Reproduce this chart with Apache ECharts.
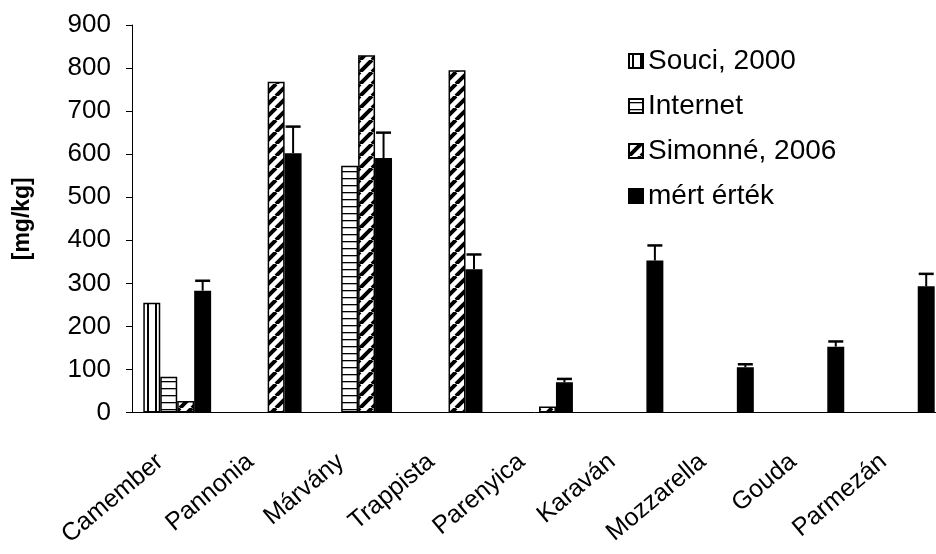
<!DOCTYPE html>
<html>
<head>
<meta charset="utf-8">
<script src="https://cdn.jsdelivr.net/npm/echarts@6/dist/echarts.min.js"></script>
<style>
  html, body { margin: 0; padding: 0; background: #fff; }
  #chart { width: 936px; height: 554px; }
</style>
</head>
<body>
<div id="chart"></div>
<script>
// adatok (leolvasva az ábráról)
const categories = ['Camember', 'Pannonia', 'Márvány', 'Trappista', 'Parenyica', 'Karaván', 'Mozzarella', 'Gouda', 'Parmezán'];
const souci = [255, null, null, null, null, null, null, null, null];
const internet = [83, null, 573, null, null, null, null, null, null];
const simonne = [27, 768, 830, 795, 14, null, null, null, null];
const mert = [283, 602, 591, 333, 70, 353, 105, 153, 293];
const mertErr = [23, 62, 59, 34, 8, 35, 7, 12, 29];
const yTicks = [0, 900, 100]; // min, max, interval

// mintázatok a kitöltéshez
function makePattern(size, draw) {
  const c = document.createElement('canvas');
  c.width = size;
  c.height = size;
  const ctx = c.getContext('2d');
  ctx.fillStyle = '#fff';
  ctx.fillRect(0, 0, size, size);
  ctx.strokeStyle = '#000';
  ctx.fillStyle = '#000';
  draw(ctx, size);
  return { image: c, repeat: 'repeat' };
}
const vertPattern = makePattern(8, function(ctx, s) {
  ctx.fillRect(3, 0, 2, s);
});
const horizPattern = makePattern(7, function(ctx, s) {
  ctx.fillRect(0, 3, s, 1.3);
});
const diagPattern = makePattern(12, function(ctx, s) {
  ctx.lineWidth = 4;
  ctx.beginPath();
  for (let k = -s; k <= s; k += s) {
    ctx.moveTo(k, s);
    ctx.lineTo(k + s, 0);
  }
  ctx.stroke();
});

const font = 'Liberation Sans, Arial, sans-serif';
const chart = echarts.init(document.getElementById('chart'));

function barSeries(name, data, fill) {
  return {
    name: name,
    type: 'bar',
    data: data,
    barGap: '0%',
    barCategoryGap: '25%',
    itemStyle: {
      color: fill,
      borderColor: '#000',
      borderWidth: 1.5
    }
  };
}

const option = {
  animation: false,
  backgroundColor: '#fff',
  textStyle: { fontFamily: font, color: '#000' },
  grid: {
    left: 132,
    right: -10,
    top: 25,
    bottom: 141.5,
    containLabel: false,
    outerBoundsMode: 'none'
  },
  legend: {
    orient: 'vertical',
    left: 623,
    top: 42,
    itemWidth: 14,
    itemHeight: 14,
    itemGap: 17,
    icon: 'rect',
    textStyle: { fontFamily: font, fontSize: 28, color: '#000' },
    data: ['Souci, 2000', 'Internet', 'Simonné, 2006', 'mért érték']
  },
  xAxis: {
    type: 'category',
    data: categories,
    axisLine: { lineStyle: { color: '#000', width: 1 } },
    axisTick: { length: 8, lineStyle: { color: '#000' } },
    axisLabel: {
      interval: 0,
      rotate: 40,
      margin: 48,
      padding: [0, 12, 0, 0],
      verticalAlign: 'bottom',
      fontFamily: font,
      fontSize: 25,
      color: '#000'
    }
  },
  yAxis: {
    type: 'value',
    min: yTicks[0],
    max: yTicks[1],
    interval: yTicks[2],
    name: '[mg/kg]',
    nameLocation: 'middle',
    nameRotate: 90,
    nameGap: 98,
    nameTextStyle: { fontFamily: font, fontSize: 23, fontWeight: 'bold', color: '#000' },
    axisLine: { show: true, lineStyle: { color: '#000', width: 1 } },
    axisTick: { show: true, length: 6, lineStyle: { color: '#000' } },
    splitLine: { show: false },
    axisLabel: { margin: 21, fontFamily: font, fontSize: 26, color: '#000' }
  },
  series: [
    barSeries('Souci, 2000', souci, vertPattern),
    barSeries('Internet', internet, horizPattern),
    barSeries('Simonné, 2006', simonne, diagPattern),
    barSeries('mért érték', mert, '#000'),
    {
      // hibasáv a mért értékekhez
      type: 'custom',
      z: 5,
      data: mert.map(function(v, i) { return [i, v, mertErr[i]]; }),
      encode: { x: 0, y: 1 },
      renderItem: function(params, api) {
        const band = api.size([1, 0])[0];
        const bw = band * 0.75 / 4;
        const base = api.coord([api.value(0), api.value(1)]);
        const top = api.coord([api.value(0), api.value(1) + api.value(2)]);
        const x = base[0] + 1.5 * bw;
        return {
          type: 'group',
          children: [
            { type: 'line', shape: { x1: x, y1: base[1], x2: x, y2: top[1] }, style: { stroke: '#000', lineWidth: 2 } },
            { type: 'line', shape: { x1: x - 7.5, y1: top[1], x2: x + 7.5, y2: top[1] }, style: { stroke: '#000', lineWidth: 2.5 } }
          ]
        };
      }
    }
  ]
};
chart.setOption(option);
</script>
</body>
</html>
